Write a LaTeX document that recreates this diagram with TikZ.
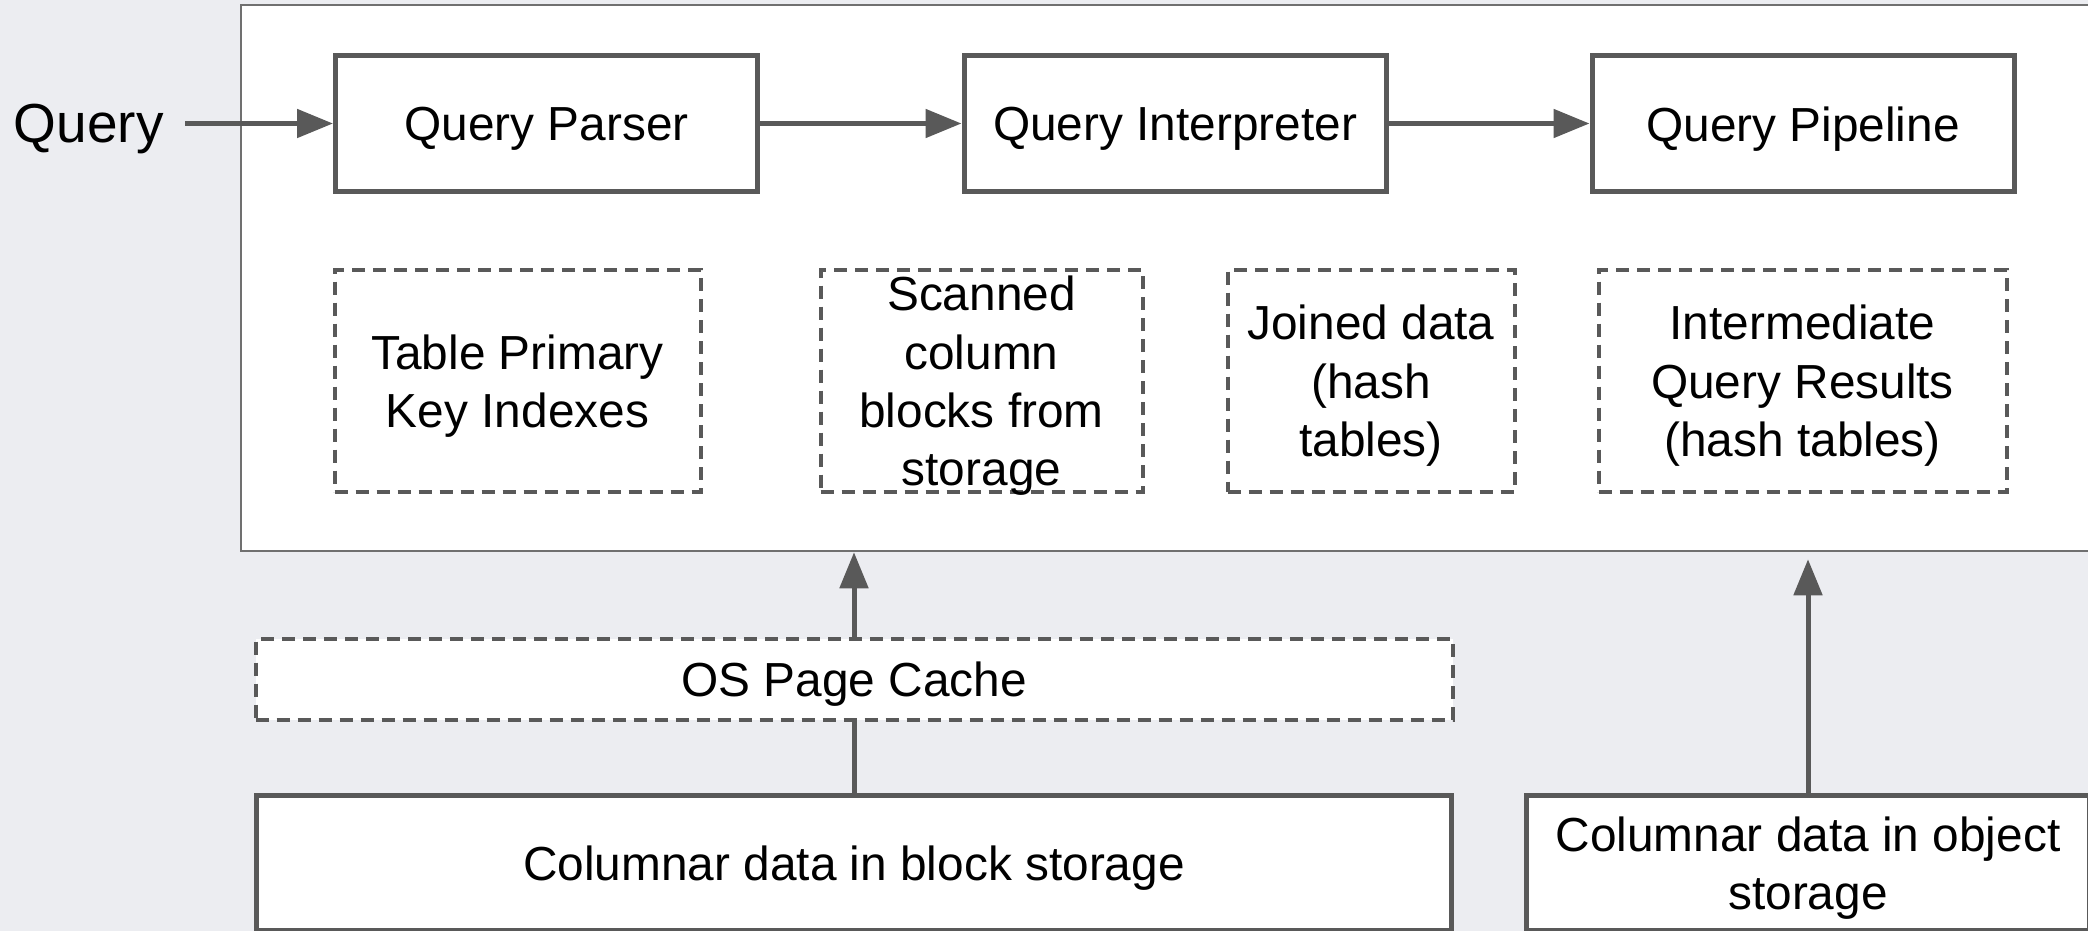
\documentclass[tikz,border=0pt]{standalone}
\usepackage{fontspec}
\setmainfont{Liberation Sans}
\usetikzlibrary{arrows.meta}
\definecolor{bg}{RGB}{236,237,241}
\definecolor{ink}{RGB}{89,89,89}
\definecolor{framecol}{RGB}{112,112,112}

\begin{document}
\begin{tikzpicture}[x=0.5pt,y=-0.5pt,
  txt/.style={font=\fontsize{23.9pt}{29.2pt}\selectfont, align=center, text=black},
  boxtext/.style={txt, yshift=-2.7pt},
  solidbox/.style={draw=ink, line width=2.5pt, fill=white, inner sep=0pt},
  dashbox/.style={draw=ink, line width=2pt, dash pattern=on 6.5pt off 4pt, fill=white, inner sep=0pt},
  arr/.style={draw=ink, line width=2.5pt, -{Triangle[length=18pt,width=14pt]}},
  link/.style={draw=ink, line width=2.5pt}]
\useasboundingbox (0,0) rectangle (2088,931);
\fill[bg] (0,0) rectangle (2088,931);
\clip (0,0) rectangle (2088,931);

% query engine frame
\node[draw=framecol, line width=1.25pt, fill=white, inner sep=0pt,
      minimum width=934.5pt, minimum height=273pt] (engine) at (1175.5,278) {};

% incoming query
\node[font=\fontsize{27.5pt}{32pt}\selectfont, anchor=east, inner xsep=10.5pt, inner ysep=0pt]
  (query) at (185,129) {Query};

% processing stages
\node[solidbox, minimum width=211pt, minimum height=68pt,
      label={[boxtext]center:Query Parser}] (parser) at (546.5,123.5) {};
\node[solidbox, minimum width=211pt, minimum height=68pt,
      label={[boxtext]center:Query Interpreter}] (interp) at (1175,123.5) {};
\node[solidbox, minimum width=211pt, minimum height=68pt,
      label={[boxtext]center:Query Pipeline}] (pipe) at (1803,123.5) {};

% in-memory data
\node[dashbox, minimum width=183pt, minimum height=111pt,
      label={[boxtext]center:{Table Primary\\Key Indexes}}] (pk) at (517.5,380.5) {};
\node[dashbox, minimum width=161pt, minimum height=111pt,
      label={[boxtext]center:{Scanned\\column\\blocks from\\storage}}] (scan) at (981.5,380.5) {};
\node[dashbox, minimum width=143.5pt, minimum height=111pt,
      label={[boxtext]center:{Joined data\\(hash\\tables)}}] (join) at (1371,380.5) {};
\node[dashbox, minimum width=204pt, minimum height=111pt,
      label={[boxtext]center:{Intermediate\\Query Results\\(hash tables)}}] (inter) at (1802.5,380.5) {};

% storage layers
\node[dashbox, minimum width=598.5pt, minimum height=40.5pt,
      label={[boxtext]center:OS Page Cache}] (cache) at (854,679) {};
\node[solidbox, minimum width=597.5pt, minimum height=67.5pt,
      label={[boxtext]center:Columnar data in block storage}] (block) at (854,863) {};
\node[solidbox, minimum width=281.5pt, minimum height=67.5pt,
      label={[boxtext]center:{Columnar data in object\\storage}}] (object) at (1808,863) {};

% connectors
\draw[arr] (parser.west -| query.east) -- (parser.west);
\draw[arr] (parser.east) -- (interp.west);
\draw[arr] (interp.east) -- (pipe.west);
\draw[link] (block.north) -- (cache.south);
\draw[arr] (cache.north) -- (cache.north |- engine.south);
\draw[arr, shorten >=3.5pt] (object.north) -- (object.north |- engine.south);
\end{tikzpicture}
\end{document}
